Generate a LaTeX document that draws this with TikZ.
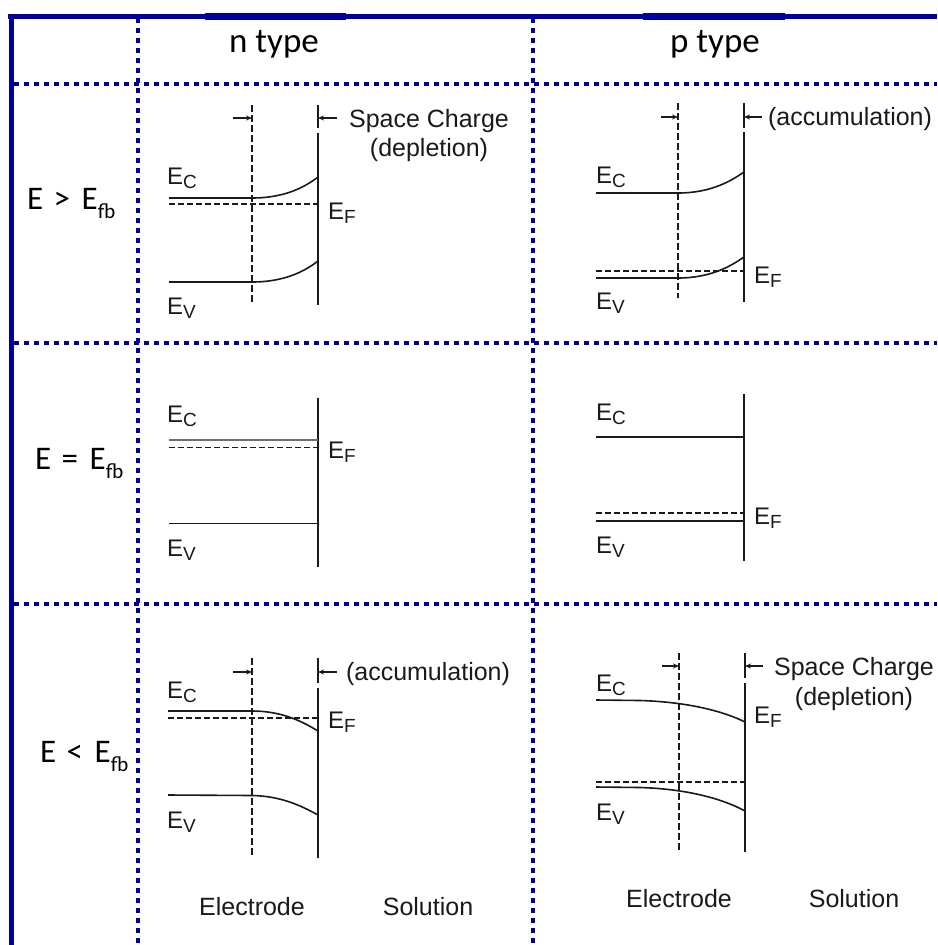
\documentclass[tikz,border=0pt]{standalone}
\usepackage{fontspec}
\setmainfont{Liberation Sans}
\newfontfamily\calibfont{Carlito}
\usepackage{tikz}
\usetikzlibrary{arrows.meta}
\definecolor{frameblue}{HTML}{000099}
\definecolor{ink}{HTML}{1A1A1A}
\definecolor{bandgray}{HTML}{6E6E6E}
\newcommand{\lblfont}{\fontsize{25}{29}\selectfont}
\newcommand{\levfont}{\fontsize{24}{27}\selectfont}
\newcommand{\levsubfont}{\fontsize{19}{21}\selectfont}
\newcommand{\headfont}{\calibfont\fontsize{35}{40}\selectfont}
\newcommand{\rowfont}{\calibfont\fontsize{33}{38}\selectfont}
\newcommand{\lev}[1]{E\raisebox{-4pt}{\levsubfont #1}}
\newcommand{\Efb}{E\raisebox{-9pt}{\fontsize{21}{23}\selectfont fb}}
\newcommand{\rel}[1]{E\hspace{3pt} #1 \hspace{4pt}\Efb}
\tikzset{
  outline/.style={frameblue,line width=5pt},
  dotline/.style={frameblue,line width=4.5pt,dash pattern=on 4.5pt off 5.5pt},
  band/.style={ink,line width=1.6pt},
  fermi/.style={ink,line width=1.3pt,dash pattern=on 6pt off 3pt},
  scedge/.style={ink,line width=1.3pt,dash pattern=on 7pt off 3pt},
  surface/.style={ink,line width=1.6pt},
  scarrow/.style={-{Stealth[length=6pt,width=5pt]},ink,line width=1.3pt},
  levlbl/.style={font=\levfont,text=ink,inner sep=0pt,anchor=base west},
  note/.style={font=\lblfont,text=ink,inner sep=0pt,anchor=base},
  head/.style={font=\headfont,inner sep=0pt,anchor=base},
  rowlbl/.style={font=\rowfont,inner sep=0pt,anchor=base west},
}
\begin{document}
\begin{tikzpicture}[x=1pt,y=-1pt]
  \fill[white] (0,0) rectangle (937,945);
  \useasboundingbox (0,0) rectangle (937,945);
  % ---------- table frame ----------
  \draw[outline] (8,16) -- (937,16);
  \fill[frameblue] (205,13) rectangle (346,19.5);
  \fill[frameblue] (643,13) rectangle (785,19.5);
  \draw[outline] (11,14) -- (11,945);
  \foreach \y in {84,343,604}
    \draw[dotline] (14,\y) -- (937,\y);
  \foreach \x in {138,533}
    \draw[dotline] (\x,18) -- (\x,945);

  % ---------- headers ----------
  \node[head] (ntype) at (274,52) {n type};
  \node[head] (ptype) at (715,52) {p type};
  \node[rowlbl] (gt) at (27,209) {\rel{>}};
  \node[rowlbl] (eq) at (35,469) {\rel{=}};
  \node[rowlbl] (lt) at (40,762) {\rel{<}};

  % ---------- n type, E > Efb ----------
  \draw[scedge] (252,105) -- (252,302);
  \draw[surface] (318,105) -- (318,128) (318,133) -- (318,305);
  \draw[scarrow] (233,118) -- (252,118);
  \draw[scarrow] (337,118) -- (318,118);
  \draw[band] (169,198) -- (252,198) .. controls (285,198) and (305,187) .. (318,177);
  \draw[fermi] (169,204) -- (318,204);
  \draw[band] (169,282) -- (252,282) .. controls (285,282) and (305,271) .. (318,261);
  \node[levlbl] (ec1n) at (167,184) {\lev{C}};
  \node[levlbl] (ef1n) at (328,219) {\lev{F}};
  \node[levlbl] (ev1n) at (167,314) {\lev{V}};
  \node[note] (sc1n) at (429,127) {Space Charge};
  \node[note] (dp1n) at (429,156) {(depletion)};

  % ---------- p type, E > Efb ----------
  \draw[scedge] (678,103) -- (678,298);
  \draw[surface] (744,103) -- (744,128) (744,132) -- (744,302);
  \draw[scarrow] (661,117) -- (678,117);
  \draw[scarrow] (762,117) -- (744,117);
  \draw[band] (596,193) -- (678,193) .. controls (711,193) and (731,181) .. (744,172);
  \draw[band] (596,278) -- (678,278) .. controls (711,278) and (731,266) .. (744,257);
  \draw[fermi] (596,271) -- (744,271);
  \node[levlbl] (ec1p) at (596,183) {\lev{C}};
  \node[levlbl] (ef1p) at (754,283) {\lev{F}};
  \node[levlbl] (ev1p) at (596,309) {\lev{V}};
  \node[note] (ac1p) at (850,125) {(accumulation)};

  % ---------- n type, E = Efb ----------
  \draw[surface] (318,398) -- (318,567);
  \draw[band,bandgray,line width=2.8pt] (169,440) -- (318,440);
  \draw[fermi] (169,447.5) -- (318,447.5);
  \draw[band] (169,523.5) -- (318,523.5);
  \node[levlbl] (ec2n) at (167,422) {\lev{C}};
  \node[levlbl] (ef2n) at (328,458) {\lev{F}};
  \node[levlbl] (ev2n) at (167,556) {\lev{V}};

  % ---------- p type, E = Efb ----------
  \draw[surface] (744,394) -- (744,561);
  \draw[band] (596,437) -- (744,437);
  \draw[fermi] (596,513) -- (744,513);
  \draw[band] (596,521) -- (744,521);
  \node[levlbl] (ec2p) at (596,420) {\lev{C}};
  \node[levlbl] (ef2p) at (754,524) {\lev{F}};
  \node[levlbl] (ev2p) at (596,553) {\lev{V}};

  % ---------- n type, E < Efb ----------
  \draw[scedge] (252,658) -- (252,858);
  \draw[surface] (318,658) -- (318,683) (318,688) -- (318,858);
  \draw[scarrow] (233,672) -- (252,672);
  \draw[scarrow] (337,672) -- (318,672);
  \draw[band] (168,711) -- (252,711) .. controls (280,711) and (300,720) .. (318,731);
  \draw[fermi] (168,718) -- (318,718);
  \draw[band] (168,795) -- (252,795.5) .. controls (280,796) and (300,805) .. (318,815);
  \node[levlbl] (ec3n) at (167,698) {\lev{C}};
  \node[levlbl] (ef3n) at (328,728) {\lev{F}};
  \node[levlbl] (ev3n) at (167,828) {\lev{V}};
  \node[note] (ac3n) at (428,680) {(accumulation)};
  \node[note] (el3n) at (252,915) {Electrode};
  \node[note] (so3n) at (428,915) {Solution};

  % ---------- p type, E < Efb ----------
  \draw[scedge] (679,653) -- (679,850);
  \draw[surface] (745,653) -- (745,678) (745,683) -- (745,852);
  \draw[scarrow] (662,666) -- (679,666);
  \draw[scarrow] (763,666) -- (745,666);
  \draw[band] (596,700) -- (640,700.5) .. controls (690,702) and (725,712) .. (745,722);
  \draw[fermi] (596,782) -- (745,782);
  \draw[band] (596,787) -- (640,787.5) .. controls (690,789) and (725,800) .. (745,811);
  \node[levlbl] (ec3p) at (596,691) {\lev{C}};
  \node[levlbl] (ef3p) at (754,723) {\lev{F}};
  \node[levlbl] (ev3p) at (596,820) {\lev{V}};
  \node[note] (sc3p) at (854,675) {Space Charge};
  \node[note] (dp3p) at (854,705) {(depletion)};
  \node[note] (el3p) at (679,907) {Electrode};
  \node[note] (so3p) at (854,907) {Solution};
\end{tikzpicture}
\end{document}
